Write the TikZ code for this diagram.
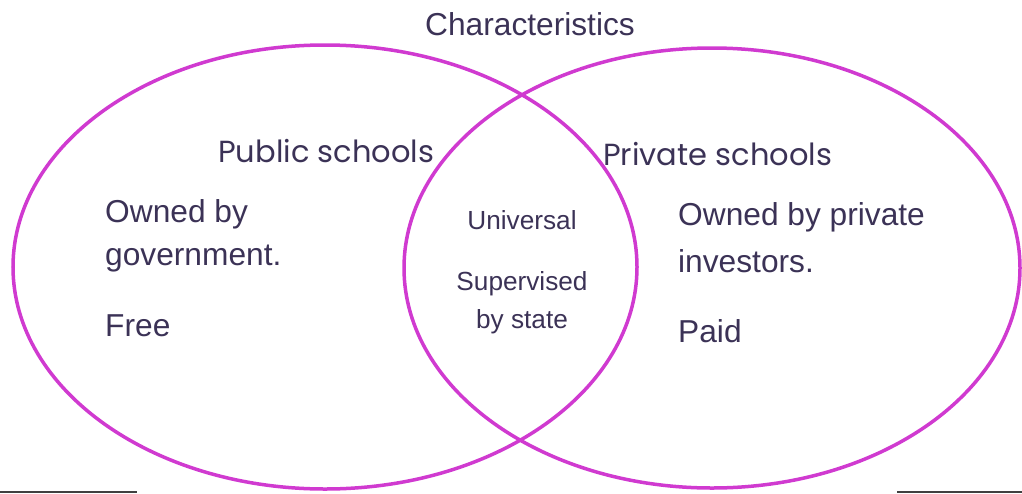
\documentclass[tikz,border=0pt]{standalone}
\usepackage{fontspec}
\setmainfont{Liberation Sans}
\newfontfamily\gothic{Poppins}
\usetikzlibrary{positioning}

\definecolor{venn}{RGB}{208,58,208}
\definecolor{ink}{RGB}{59,50,86}
\definecolor{rule}{RGB}{64,64,64}

\tikzset{
  set/.style={draw=venn,line width=3.5pt},
  word/.style={inner sep=0pt,anchor=base west,text=ink,font=\fontsize{31.7}{38}\selectfont},
  small/.style={inner sep=0pt,anchor=base,text=ink,font=\fontsize{26.2}{31}\selectfont},
  title/.style={inner sep=0pt,anchor=base west,text=ink,font=\gothic\fontsize{30.5}{36}\selectfont},
  edge/.style={draw=rule,line width=2pt}
}

\begin{document}
\begin{tikzpicture}[x=1pt,y=-1pt]
    \useasboundingbox (0,0) rectangle (1022,493);

    % the two sets
    \draw[set] (325,267) ellipse [x radius=312,y radius=222];
    \draw[set] (712,268) ellipse [x radius=308,y radius=220];

    \node (head) [word,anchor=base] at (530,35) {Characteristics};

    \node (pub)  [title] at (218,162) {Public schools};
    \node (priv) [title] at (603,165) {Private schools};

    % left set
    \node (own)  [word] at (105,222) {Owned by};
    \node (gov)  [word] at (105,265) {government.};
    \node (free) [word] at (105,336) {Free};

    % right set
    \node (inv)  [word] at (678,225) {Owned by private};
    \node (invs) [word] at (678,272) {investors.};
    \node (paid) [word] at (678,342) {Paid};

    % overlap
    \node (uni)  [small] at (522,229) {Universal};
    \node (sup)  [small] at (522,290) {Supervised};
    \node (stat) [small] at (522,328) {by state};

    \coordinate (la) at (0,491.5);
    \coordinate (lb) at (137,491.5);
    \coordinate (ra) at (897,491.5);
    \coordinate (rb) at (1022,491.5);
    \draw[edge] (la) -- (lb);
    \draw[edge] (ra) -- (rb);
\end{tikzpicture}
\end{document}
